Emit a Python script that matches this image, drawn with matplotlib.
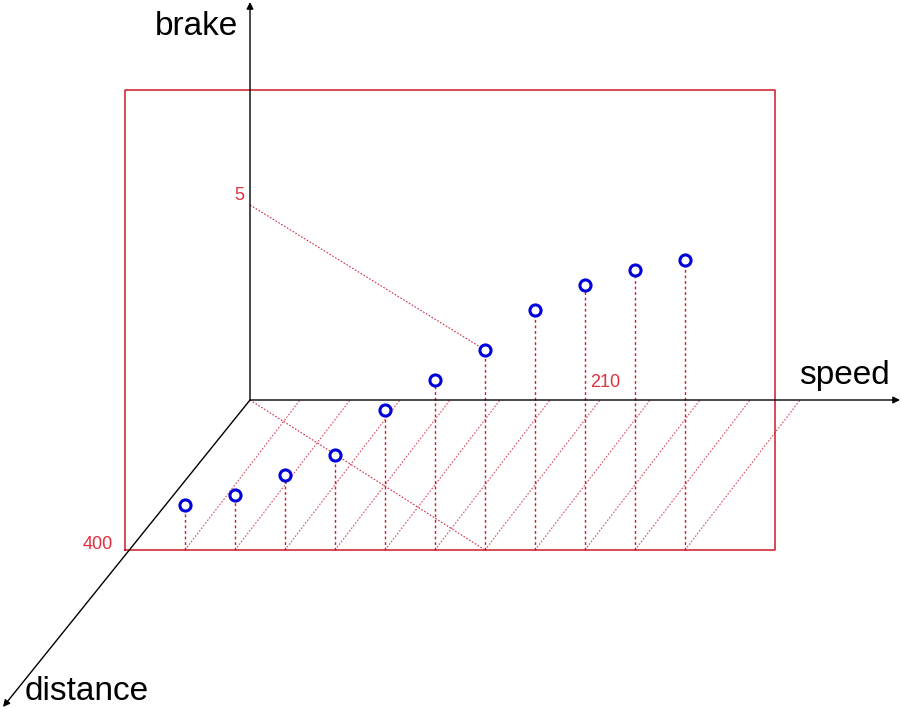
import matplotlib
matplotlib.use("Agg")
import matplotlib.pyplot as plt
import numpy as np

# ---- data ----
speed = [35, 64.2, 93.3, 122.5, 151.7, 180.8, 210, 239.2, 268.3, 297.5, 326.7]
brake = [1.125, 1.375, 1.875, 2.375, 3.5, 4.25, 5.0, 6.0, 6.625, 7.0, 7.25]
distance = [400] * len(speed)
highlight_index = 6
axis_labels = ["speed", "distance", "brake"]
tick_labels = {"speed": "210", "distance": "400", "brake": "5"}

# ---- oblique projection (screen pixel frame) ----
OX, OY = 250.0, 400.0
SX = 360.0 / 210.0          # px per speed unit
DX, DY = -125.0 / 400.0, 150.0 / 400.0  # px per distance unit
BY = 40.0                   # px per brake unit
HATCH_SHIFT = -10.0 / SX    # hatch lines lean slightly off the distance direction

def proj(s, d, b):
    s = np.asarray(s, float); d = np.asarray(d, float); b = np.asarray(b, float)
    return OX + s * SX + d * DX, OY - b * BY + d * DY

W, H = 901, 710
fig = plt.figure(figsize=(W / 100, H / 100), dpi=100)
ax = fig.add_axes([0, 0, 1, 1])
ax.set_xlim(0, W)
ax.set_ylim(H, 0)
ax.axis("off")

RED = "#d01828"
LRED = "#d03048"
LABEL_RED = "#e03040"
FONT = "Liberation Sans"

# front plane rectangle at distance 400
s_max, b_max = 650.0 / SX, 11.5
dmax = 400
rx, ry = proj([0, s_max, s_max, 0, 0], [dmax] * 5, [0, 0, b_max, b_max, 0])
ax.plot(rx, ry, color=RED, lw=1.1, zorder=2)

# axes with arrows
def arrow(p0, p1):
    ax.annotate("", xy=(float(p1[0]), float(p1[1])), xytext=(float(p0[0]), float(p0[1])),
                annotation_clip=False,
                arrowprops=dict(arrowstyle="-|>", color="black", lw=1.0,
                                mutation_scale=10, shrinkA=0, shrinkB=0), zorder=3)

o = proj(0, 0, 0)
arrow(o, proj(650 / SX, 0, 0))
arrow(o, proj(0, 0, 398 / BY))
arrow(o, (3.0, 707.0))

# floor hatch lines
s_arr = np.array(speed)
for s in s_arr:
    x0, y0 = proj(s, dmax, 0)
    x1, y1 = proj(s + HATCH_SHIFT, 0, 0)
    ax.plot([x0, x1], [y0, y1], color=LRED, lw=0.8, ls=(0, (1.5, 1.5)), alpha=0.85, zorder=1)

# drop lines
for s, d, b in zip(speed, distance, brake):
    x0, y0 = proj(s, d, 0)
    x1, y1 = proj(s, d, b)
    ax.plot([x0, x1], [y0, y1], color=RED, lw=1.0, ls=(0, (2, 2)), zorder=2)

# guide lines for highlighted point
hs, hd, hb = speed[highlight_index], distance[highlight_index], brake[highlight_index]
gx0, gy0 = proj(0, 0, hb)
gx1, gy1 = proj(hs, hd, hb)
ax.plot([gx0, gx1], [gy0 + 5, gy1], color=LRED, lw=0.8, ls=(0, (1.5, 1.5)), zorder=1)
gx0, gy0 = proj(0, 0, 0)
gx1, gy1 = proj(hs, hd, 0)
ax.plot([gx0, gx1], [gy0, gy1], color=LRED, lw=0.8, ls=(0, (1.5, 1.5)), zorder=1)

# points
px, py = proj(speed, distance, brake)
ax.plot(px, py, ls="none", marker="o", ms=8, mfc="white", mec="#0000dd", mew=2.2, zorder=4)

# tick labels
tx, ty = proj(0, 0, hb)
ax.text(tx - 6, ty + 4, tick_labels["brake"], color=LABEL_RED, fontsize=13,
        family=FONT, ha="right", va="bottom")
tx, ty = proj(hs, 0, 0)
ax.text(tx - 5, ty - 9, tick_labels["speed"], color=LABEL_RED, fontsize=13,
        family=FONT, ha="center", va="bottom")
tx, ty = proj(0, hd, 0)
ax.text(tx - 12, ty + 3, tick_labels["distance"], color=LABEL_RED, fontsize=13,
        family=FONT, ha="right", va="bottom")

# axis titles
ax.text(238, 35, axis_labels[2], fontsize=24, family=FONT, ha="right", va="baseline")
ax.text(890, 384, axis_labels[0], fontsize=24, family=FONT, ha="right", va="baseline")
ax.text(25, 700, axis_labels[1], fontsize=24, family=FONT, ha="left", va="baseline")

fig.savefig("out.png", dpi=100, facecolor="white")
